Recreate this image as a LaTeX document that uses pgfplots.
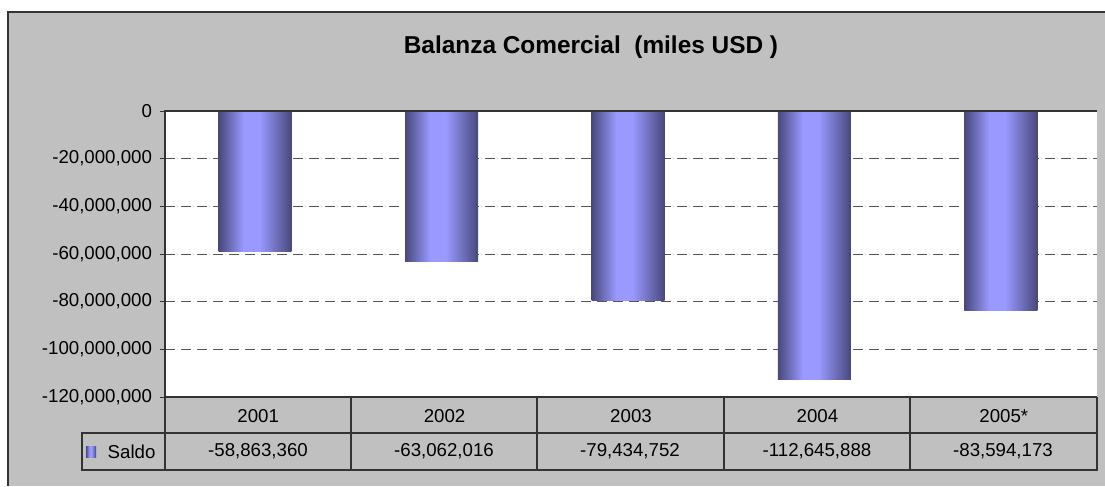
\documentclass[border=0pt]{standalone}
\usepackage{fontspec}
\setmainfont{Liberation Sans}
\usepackage{pgfplots}
\pgfplotsset{compat=1.18}

\definecolor{bgGray}{HTML}{C0C0C0}
\definecolor{lineDark}{HTML}{333333}
\definecolor{gridGray}{HTML}{555555}
\definecolor{barLight}{HTML}{9999FF}
\definecolor{barDark}{HTML}{48487C}

% cylinder-like bar shading (dark edges, light just left of centre)
\pgfdeclarehorizontalshading{cyl}{100bp}{color(0bp)=(barDark); color(25bp)=(barDark);
  color(42bp)=(barLight); color(53bp)=(barLight); color(75bp)=(barDark); color(100bp)=(barDark)}

\pgfplotsset{cylbar/.style={ybar, bar width=54.75pt, bar shift=-2.25pt, draw=none, shade, shading=cyl}}

\begin{document}
\begin{tikzpicture}
% canvas in reference pixels (1px = 0.75pt), y downwards
\begin{scope}[x=0.75pt, y=-0.75pt, shift={(0,364.5pt)}]
  \path[use as bounding box, fill=white] (0,0) rectangle (1105,486);
  \fill[bgGray] (8,12) rectangle (1105,486);
  \draw[lineDark, line width=1.2pt] (8,486) -- (8,12) -- (1105,12);
  \node[font=\fontsize{18.3}{21}\selectfont\bfseries] at (591,47) {Balanza Comercial~~(miles USD~)};
\end{scope}

\begin{axis}[
    at={(123.75pt,66.75pt)}, anchor=south west,
    scale only axis,
    width=699pt, height=214.5pt,
    axis background/.style={fill=white},
    axis line style={draw=none},
    xmin=-0.5, xmax=4.5,
    ymin=-120000000, ymax=0,
    xtick={0,1,2,3,4},
    xticklabels={2001,2002,2003,2004,2005*},
    xticklabel style={anchor=center, yshift=-10.5pt},
    x tick style={draw=none},
    ytick={-120000000,-100000000,-80000000,-60000000,-40000000,-20000000,0},
    ytick pos=left,
    tick align=outside,
    major tick length=3.75pt,
    y tick style={lineDark, line width=0.75pt},
    scaled y ticks=false,
    yticklabel style={xshift=-2.5pt, /pgf/number format/.cd, fixed, 1000 sep={,}, assume math mode=true},
    tick label style={font=\fontsize{14}{16}\selectfont},
    ymajorgrids,
    grid style={gridGray, line width=0.75pt, dash pattern=on 7.5pt off 4.5pt},
    clip=false,
]
% one \addplot per bar so that each bar gets its own shading
\addplot[cylbar] coordinates {(0,-58863360)};
\addplot[cylbar] coordinates {(1,-63062016)};
\addplot[cylbar] coordinates {(2,-79434752)};
\addplot[cylbar] coordinates {(3,-112645888)};
\addplot[cylbar] coordinates {(4,-83594173)};
\draw[lineDark, line width=1pt] (rel axis cs:0,0) -- (rel axis cs:0,1) -- (rel axis cs:1,1);
\end{axis}

% data table below the plot area
\begin{scope}[x=0.75pt, y=-0.75pt, shift={(0,364.5pt)}]
  \draw[lineDark, line width=0.8pt] (165,397) -- (1097,397);
  \draw[lineDark, line width=0.8pt] (82,433) rectangle (1097,470);
  \foreach \xx in {165,351,537,724,910,1097}
    \draw[lineDark, line width=0.8pt] (\xx,397) -- (\xx,470);
  \shade[shading=cyl] (86,446) rectangle (96,457);
  \node[anchor=west, font=\fontsize{14}{16}\selectfont] at (103,451.5) {Saldo};
  \foreach \xx/\val in {258/{-58,863,360}, 444/{-63,062,016}, 630/{-79,434,752},
                        817/{-112,645,888}, 1003/{-83,594,173}}
    \node[font=\fontsize{14}{16}\selectfont] at (\xx,451.5) {\val};
\end{scope}
\end{tikzpicture}
\end{document}
